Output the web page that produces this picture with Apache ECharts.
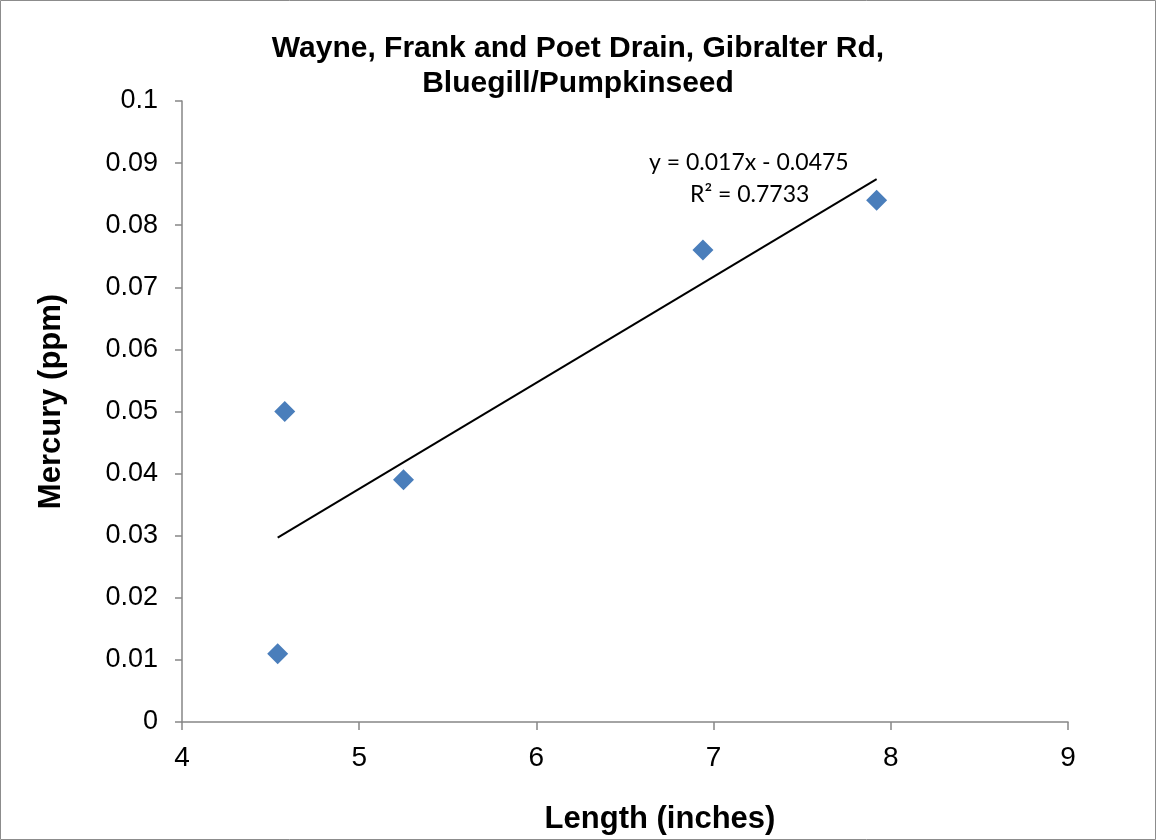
<!DOCTYPE html>
<html>
<head>
<meta charset="utf-8">
<script src="https://cdn.jsdelivr.net/npm/echarts@6/dist/echarts.min.js"></script>
<style>
	html, body { margin: 0; padding: 0; background: #fff; }
	#chart { width: 1156px; height: 840px; }
</style>
</head>
<body>
<div id="chart"></div>
<script>
// 数据：长度(英寸) 与 汞含量(ppm)
var lengths = [4.54, 4.58, 5.25, 6.94, 7.92];
var mercury = [0.011, 0.050, 0.039, 0.076, 0.084];
var xTicks = [4, 5, 6, 7, 8, 9];
var yTicks = [0, 0.01, 0.02, 0.03, 0.04, 0.05, 0.06, 0.07, 0.08, 0.09, 0.1];

var points = lengths.map(function (x, i) {
	return [x, mercury[i]];
});

// 线性回归 (趋势线)
function linearFit(xs, ys) {
	var n = xs.length, mx = 0, my = 0, sxy = 0, sxx = 0;
	for (var i = 0; i < n; i++) { mx += xs[i]; my += ys[i]; }
	mx /= n; my /= n;
	for (var j = 0; j < n; j++) {
		sxy += (xs[j] - mx) * (ys[j] - my);
		sxx += (xs[j] - mx) * (xs[j] - mx);
	}
	var k = sxy / sxx;
	return { k: k, b: my - k * mx };
}
var fit = linearFit(lengths, mercury);
var xMin = Math.min.apply(null, lengths), xMax = Math.max.apply(null, lengths);
var trend = [[xMin, fit.k * xMin + fit.b], [xMax, fit.k * xMax + fit.b]];

var chart = echarts.init(document.getElementById('chart'));
var font = '"Liberation Sans", Arial, sans-serif';

var option = {
	backgroundColor: '#fff',
	animation: false,
	title: {
		text: 'Wayne, Frank and Poet Drain, Gibralter Rd,\nBluegill/Pumpkinseed',
		left: 'center',
		top: 26,
		textStyle: {
			fontFamily: font,
			fontSize: 30,
			fontWeight: 'bold',
			color: '#000',
			lineHeight: 35
		}
	},
	grid: {
		left: 182,
		right: 88,
		top: 101,
		bottom: 118
	},
	xAxis: {
		type: 'value',
		min: xTicks[0],
		max: xTicks[xTicks.length - 1],
		interval: 1,
		name: 'Length (inches)',
		nameLocation: 'middle',
		nameGap: 82,
		nameTextStyle: {
			fontFamily: font,
			fontSize: 31,
			fontWeight: 'bold',
			color: '#000',
			padding: [0, 0, 0, 70]
		},
		axisLine: { lineStyle: { color: '#868686', width: 1.5 } },
		axisTick: { length: 8, lineStyle: { color: '#868686', width: 1.5 } },
		axisLabel: {
			margin: 22,
			fontFamily: font,
			fontSize: 28,
			color: '#000'
		},
		splitLine: { show: false }
	},
	yAxis: {
		type: 'value',
		min: yTicks[0],
		max: yTicks[yTicks.length - 1],
		interval: 0.01,
		name: 'Mercury (ppm)',
		nameLocation: 'middle',
		nameGap: 115,
		nameRotate: 90,
		nameTextStyle: {
			fontFamily: font,
			fontSize: 31,
			fontWeight: 'bold',
			color: '#000',
			padding: [0, 0, 0, 20]
		},
		axisLine: { show: true, lineStyle: { color: '#868686', width: 1.5 } },
		axisTick: { show: true, length: 7, lineStyle: { color: '#868686', width: 1.5 } },
		axisLabel: {
			margin: 24,
			fontFamily: font,
			fontSize: 27,
			color: '#000',
			formatter: function (v) {
				return String(+v.toFixed(2));
			}
		},
		splitLine: { show: false }
	},
	graphic: [
		{
			type: 'rect',
			shape: { x: 0.5, y: 0.5, width: 1155, height: 839 },
			style: { fill: 'none', stroke: '#8c8c8c', lineWidth: 1 },
			silent: true
		},
		{
			type: 'text',
			left: 649,
			top: 151,
			style: {
				text: 'y = 0.017x - 0.0475',
				font: '23px Lato, "Open Sans", sans-serif',
				fill: '#000'
			}
		},
		{
			type: 'text',
			left: 690,
			top: 183,
			style: {
				text: 'R² = 0.7733',
				font: '23px Lato, "Open Sans", sans-serif',
				fill: '#000'
			}
		}
	],
	series: [
		{
			name: 'Linear',
			type: 'line',
			data: trend,
			symbol: 'none',
			lineStyle: { color: '#000', width: 2 },
			z: 1
		},
		{
			name: 'Mercury',
			type: 'scatter',
			data: points,
			symbol: 'diamond',
			symbolSize: 21,
			itemStyle: { color: '#4a7ebb', opacity: 1 },
			z: 3
		}
	]
};
chart.setOption(option);

window.onresize = function () {
	chart.resize();
};
</script>
</body>
</html>
